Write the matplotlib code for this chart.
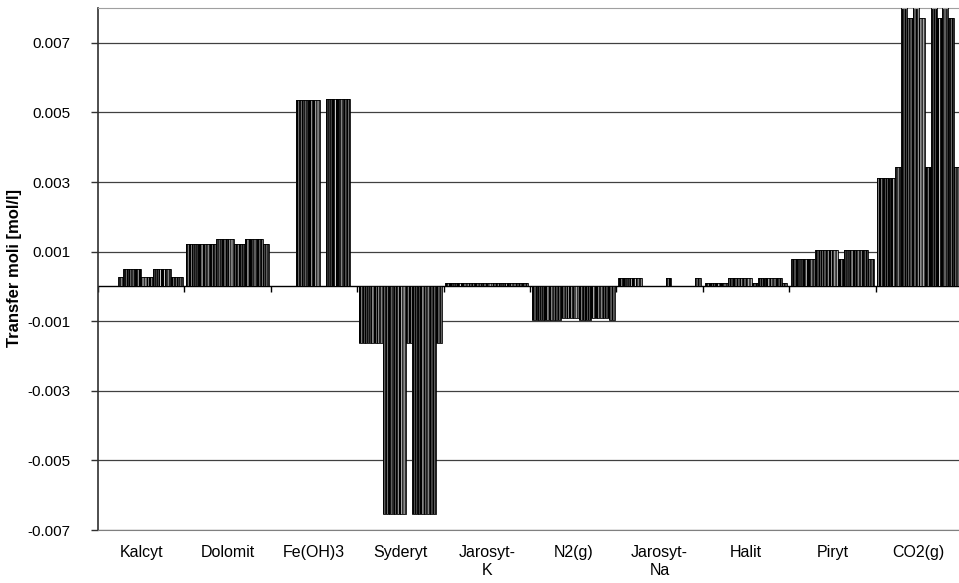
import numpy as np
import matplotlib
matplotlib.use("Agg")
import matplotlib.pyplot as plt

plt.rcParams['font.family'] = ['Liberation Sans', 'DejaVu Sans']
plt.rcParams['hatch.linewidth'] = 0.8

categories = ["Kalcyt", "Dolomit", "Fe(OH)3", "Syderyt", "Jarosyt-\nK",
              "N2(g)", "Jarosyt-\nNa", "Halit", "Piryt", "CO2(g)"]

# 14 series (bars) per category, values in mol/l
kalcyt = [0, 0, 0, 0.00028, 0.00049, 0.00049, 0.00049, 0.00028, 0.00028,
          0.00049, 0.00049, 0.00049, 0.00028, 0.00028]
dolomit = [0.00123, 0.00123, 0.00123, 0.00123, 0.00123, 0.00135, 0.00135,
           0.00135, 0.00123, 0.00123, 0.00135, 0.00135, 0.00135, 0.00123]
fe_oh3 = [0, 0, 0, 0, 0.00535, 0.00535, 0.00535, 0.00535, 0,
          0.00538, 0.00538, 0.00538, 0.00538, 0]
syderyt = [-0.00163, -0.00163, -0.00163, -0.00163, -0.00655, -0.00655, -0.00655,
           -0.00655, -0.00163, -0.00655, -0.00655, -0.00655, -0.00655, -0.00163]
jarosyt_k = [0.00011, 0.00011, 0.00011, 0.00011, 0.00011, 0.00011, 0.00011,
             0.00011, 0.00011, 0.00011, 0.00011, 0.00011, 0.00011, 0.00011]
n2 = [-0.00096, -0.00096, -0.00096, -0.00096, -0.00096, -0.0009, -0.0009,
      -0.0009, -0.00096, -0.00096, -0.0009, -0.0009, -0.0009, -0.00096]
jarosyt_na = [0.00023, 0.00023, 0.00023, 0.00023, 0, 0, 0, 0, 0.00023,
              0, 0, 0, 0, 0.00023]
halit = [0.0001, 0.0001, 0.0001, 0.0001, 0.00024, 0.00024, 0.00024, 0.00024,
         0.0001, 0.00024, 0.00024, 0.00024, 0.00024, 0.0001]
piryt = [0.00079, 0.00079, 0.00079, 0.00079, 0.00106, 0.00106, 0.00106, 0.00106,
         0.00079, 0.00106, 0.00106, 0.00106, 0.00106, 0.00079]
co2 = [0.00311, 0.00311, 0.00311, 0.00344, 0.0082, 0.0077, 0.0082, 0.0077,
       0.00344, 0.0082, 0.0077, 0.0082, 0.0077, 0.00344]

data = np.array([kalcyt, dolomit, fe_oh3, syderyt, jarosyt_k, n2,
                 jarosyt_na, halit, piryt, co2])
n_cat, n_ser = data.shape

# excel-like pattern fills: face colour, stripe colour, stripe density
faces = ['black', '#555555', 'black', '#202020', 'black', '#606060', 'black',
         '#303030', 'black', '#555555', 'black', '#202020', 'black', '#606060']
stripes = ['#8a8a8a', 'black', '#d0d0d0', '#909090', '#707070', 'black', '#a0a0a0',
           '#b0b0b0', '#8a8a8a', 'black', '#d0d0d0', '#909090', '#707070', 'black']
hatches = ['|||||', '||||||||', '||||', '|||||', '||||||', '||||||', '|||||',
           '||||||', '|||||', '||||||||', '||||', '|||||', '||||||', '||||||']

fig = plt.figure(figsize=(9.59, 5.83), dpi=100)
ax = fig.add_axes([98/959, 53/583, 864/959, 522/583])

x = np.arange(n_cat)
group = 0.96
w = group / n_ser
for i in range(n_ser):
    pos = x - group/2 + w*(i + 0.5)
    ax.bar(pos, data[:, i], w, color=faces[i], edgecolor=stripes[i],
           hatch=hatches[i], linewidth=0, zorder=2)
    ax.bar(pos, data[:, i], w, fill=False, edgecolor='black',
           linewidth=0.6, zorder=3)

ax.set_xlim(-0.5, n_cat - 0.5)
ax.set_ylim(-0.007, 0.008)

yt = np.arange(-0.007, 0.0071, 0.002)
ax.set_yticks(yt)
ax.set_yticklabels(["%.3f" % v for v in yt], fontsize=11)
ax.tick_params(axis='y', direction='out', length=5, width=1, color='#303030', pad=15)
ax.yaxis.grid(True, color='#404040', linewidth=0.9)
ax.set_axisbelow(True)

ax.set_xticks(x)
ax.set_xticklabels(categories, fontsize=11.5)
ax.tick_params(axis='x', length=0, pad=11)

# category axis crossing at zero
ax.axhline(0, color='black', linewidth=1, zorder=1)
ax.vlines(np.arange(n_cat + 1) - 0.5, -0.00015, 0, color='black', linewidth=1, zorder=1)

ax.spines['left'].set_color('#303030')
ax.spines['left'].set_linewidth(1.2)
ax.spines['top'].set_color('#a0a0a0')
ax.spines['bottom'].set_color('#808080')
ax.spines['right'].set_visible(False)

fig.text(15/959, 1 - 268/583, "Transfer moli [mol/l]", rotation=90,
         ha='center', va='center', fontsize=12, fontweight='bold')

plt.savefig("out.png", dpi=100)
